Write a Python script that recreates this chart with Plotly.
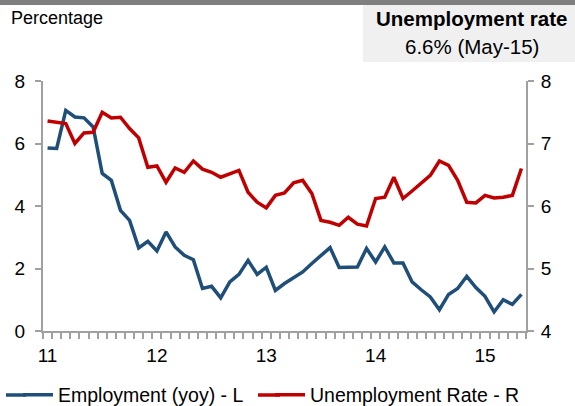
import plotly.graph_objects as go

months = [f"{m}-{y}" for y in range(11, 16) for m in
          ["Jan", "Feb", "Mar", "Apr", "May", "Jun", "Jul", "Aug", "Sep", "Oct", "Nov", "Dec"]][:53]

employment = [5.86, 5.84, 7.06, 6.85, 6.82, 6.53, 5.04, 4.82, 3.86, 3.54, 2.66, 2.87,
              2.56, 3.17, 2.69, 2.42, 2.28, 1.36, 1.43, 1.06, 1.57, 1.81, 2.26, 1.81,
              2.04, 1.30, 1.52, 1.71, 1.89, 2.16, 2.42, 2.67, 2.03, 2.05, 2.05, 2.64,
              2.21, 2.69, 2.18, 2.18, 1.57, 1.32, 1.09, 0.68, 1.17, 1.36, 1.75, 1.39,
              1.11, 0.61, 1.00, 0.85, 1.17]

unemployment = [7.36, 7.34, 7.32, 7.00, 7.17, 7.18, 7.50, 7.41, 7.42, 7.24, 7.09, 6.62,
                6.64, 6.38, 6.61, 6.54, 6.72, 6.59, 6.54, 6.46, 6.52, 6.57, 6.22, 6.06,
                5.97, 6.17, 6.21, 6.37, 6.41, 6.20, 5.77, 5.74, 5.69, 5.82, 5.71, 5.68,
                6.12, 6.14, 6.46, 6.12, 6.24, 6.37, 6.49, 6.72, 6.65, 6.41, 6.06, 6.05,
                6.17, 6.13, 6.14, 6.17, 6.60]

year_labels = ["11", "12", "13", "14", "15"]
left_ticks = [0, 2, 4, 6, 8]
right_ticks = [4, 5, 6, 7, 8]

x = list(range(len(months)))
FONT = "Liberation Sans, Arial, sans-serif"
AXC = "#a0a0a0"
BLUE = "#1F4E79"
RED = "#C00000"

# plot area in pixels
L, R, T, B = 43, 526, 81, 331
PW, PH = R - L, B - T


def px(xp):
    return (xp - L) / PW


def py(yp):
    return (B - yp) / PH


fig = go.Figure()
fig.add_trace(go.Scatter(x=x, y=employment, name="Employment (yoy) - L", mode="lines",
                         line=dict(color=BLUE, width=3.5), text=months))
fig.add_trace(go.Scatter(x=x, y=unemployment, name="Unemployment Rate - R", mode="lines",
                         line=dict(color=RED, width=3.5), yaxis="y2", text=months))

fig.update_layout(
    width=575, height=406,
    margin=dict(l=L, r=575 - R, t=T, b=406 - B, pad=0, autoexpand=False),
    paper_bgcolor="white", plot_bgcolor="white",
    font=dict(family=FONT, color="black", size=19),
    xaxis=dict(range=[-0.5, len(months) - 0.5], automargin=False,
               tickvals=[x[i] for i in range(0, len(months), 12)],
               ticktext=year_labels, ticks="", ticklen=0, ticklabelstandoff=6,
               showline=True, linecolor=AXC, linewidth=2, showgrid=False, zeroline=False,
               tickfont=dict(size=19, family=FONT),
               minor=dict(tickvals=[i - 0.5 for i in range(len(months) + 1)],
                          ticks="outside", ticklen=6, tickcolor=AXC, tickwidth=1.5,
                          showgrid=False)),
    yaxis=dict(range=[0, 8], tickvals=left_ticks, ticks="outside", ticklen=6,
               tickcolor=AXC, tickwidth=1.5, automargin=False, ticklabelstandoff=6,
               showline=True, linecolor=AXC, linewidth=2, showgrid=False, zeroline=False,
               tickfont=dict(size=19, family=FONT)),
    yaxis2=dict(range=[4, 8], tickvals=right_ticks, overlaying="y", side="right",
                ticks="outside", ticklen=6, tickcolor=AXC, tickwidth=1.5, automargin=False,
                ticklabelstandoff=3,
                showline=True, linecolor=AXC, linewidth=2, showgrid=False, zeroline=False,
                tickfont=dict(size=19, family=FONT)),
    legend=dict(orientation="h", x=px(18), xanchor="left", y=py(395), yanchor="middle",
                font=dict(size=19.5, family=FONT), entrywidth=207, entrywidthmode="pixels",
                bgcolor="rgba(0,0,0,0)"),
    showlegend=True,
)

# legend sample extensions (longer line keys as in the reference)
fig.add_shape(type="line", xref="paper", yref="paper", x0=px(6), x1=px(26),
              y0=py(395), y1=py(395), line=dict(color=BLUE, width=3.5))
fig.add_shape(type="line", xref="paper", yref="paper", x0=px(258), x1=px(280),
              y0=py(395), y1=py(395), line=dict(color=RED, width=3.5))

# top grey strip
fig.add_shape(type="rect", xref="paper", yref="paper",
              x0=px(0), x1=px(575), y0=py(5), y1=py(-2),
              fillcolor="#7f7f7f", line=dict(width=0), layer="above")
# info box
fig.add_shape(type="rect", xref="paper", yref="paper",
              x0=px(363), x1=px(577), y0=py(62), y1=py(5),
              fillcolor="#f0f0f0", line=dict(width=0), layer="below")

fig.add_annotation(xref="paper", yref="paper", x=px(9), y=py(18),
                   text="Percentage", showarrow=False, xanchor="left", yanchor="middle",
                   font=dict(size=18, family=FONT))
fig.add_annotation(xref="paper", yref="paper", x=px(471), y=py(18),
                   text="<b>Unemployment rate</b>", showarrow=False, xanchor="center",
                   yanchor="middle", font=dict(size=20.5, family=FONT))
fig.add_annotation(xref="paper", yref="paper", x=px(472), y=py(46),
                   text="6.6% (May-15)", showarrow=False, xanchor="center",
                   yanchor="middle", font=dict(size=20.5, family=FONT))

fig.write_html("out.html", config={"displayModeBar": False},
               post_script="document.body.style.margin='0';document.body.style.padding='0';")
